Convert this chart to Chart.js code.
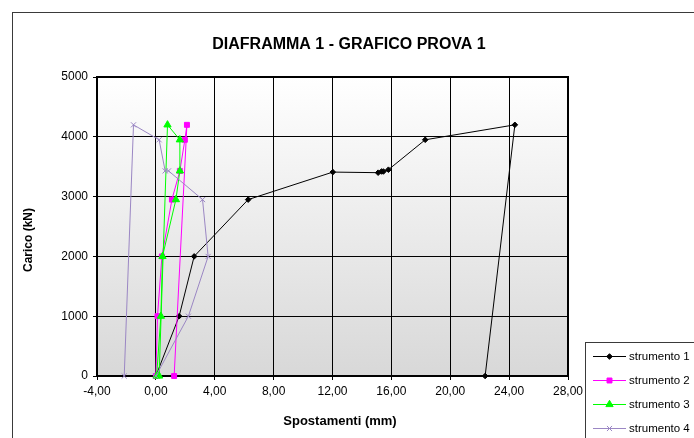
<!DOCTYPE html>
<html>
<head>
<meta charset="utf-8">
<script src="https://cdn.jsdelivr.net/npm/chart.js@4.4.1/dist/chart.umd.min.js"></script>
<style>
  html, body { margin: 0; padding: 0; background: #ffffff; }
  #wrap { width: 694px; height: 438px; position: relative; }
</style>
</head>
<body>
<div id="wrap"><canvas id="c" width="694" height="438"></canvas></div>
<script>
const seriesNames = ['strumento 1', 'strumento 2', 'strumento 3', 'strumento 4'];

const s1Spost  = [0, 1.58, 2.6, 6.27, 12.02, 15.1, 15.33, 15.46, 15.8, 18.3, 24.39, 22.37];
const s1Carico = [0, 1000, 2000, 2950, 3410, 3400, 3420, 3420, 3450, 3950, 4200, 0];

const s2Spost  = [0, 0.11, 0.41, 1.09, 1.63, 1.97, 2.11, 1.24];
const s2Carico = [0, 1000, 2000, 2950, 3430, 3950, 4200, 0];

const s3Spost  = [0.05, 0.34, 0.45, 1.36, 1.63, 1.63, 0.79, 0.22];
const s3Carico = [0, 1000, 2000, 2950, 3430, 3950, 4200, 0];

const s4Spost  = [0, 2.21, 3.55, 3.17, 0.86, 0.63, 0.22, -1.52, -2.15];
const s4Carico = [0, 1000, 2000, 2950, 3430, 3430, 3950, 4200, 0];

const xTickValues = [-4, 0, 4, 8, 12, 16, 20, 24, 28];
const yTickValues = [0, 1000, 2000, 3000, 4000, 5000];

const FONT = '"Liberation Sans", Arial, sans-serif';

function pts(xs, ys) { return xs.map((x, i) => ({ x: x, y: ys[i] })); }

const styles = [
  { color: '#000000', point: 'rectRot',  radius: 2.8 },
  { color: '#ff00ff', point: 'rect',     radius: 3.5 },
  { color: '#00ff00', point: 'triangle', radius: 4.2 },
  { color: '#9b87c4', point: 'crossRot', radius: 3.6 }
];
const allData = [pts(s1Spost, s1Carico), pts(s2Spost, s2Carico), pts(s3Spost, s3Carico), pts(s4Spost, s4Carico)];

const datasets = allData.map((d, i) => ({
  label: seriesNames[i],
  data: d,
  borderColor: styles[i].color,
  backgroundColor: styles[i].color,
  borderWidth: 1,
  pointStyle: styles[i].point,
  pointRadius: styles[i].radius,
  pointBorderWidth: 1,
  pointBorderColor: styles[i].color,
  pointBackgroundColor: styles[i].color,
  showLine: true,
  tension: 0,
  clip: false
})).reverse(); // strumento 1 drawn on top

// plot background, frame, titles and legend
const decor = {
  id: 'decor',
  beforeDraw(chart) {
    const { ctx, chartArea: a } = chart;
    ctx.save();
    ctx.fillStyle = '#ffffff';
    ctx.fillRect(0, 0, chart.width, chart.height);
    ctx.strokeStyle = '#3a3a3a';
    ctx.lineWidth = 1;
    ctx.strokeRect(12.5, 12.5, 800, 600);
    const g = ctx.createLinearGradient(0, a.top, 0, a.bottom);
    g.addColorStop(0, '#ffffff');
    g.addColorStop(1, '#d8d8d8');
    ctx.fillStyle = g;
    ctx.fillRect(a.left, a.top, a.right - a.left, a.bottom - a.top);
    ctx.restore();
  },
  beforeDatasetsDraw(chart) {
    const { ctx, chartArea: a } = chart;
    ctx.save();
    ctx.strokeStyle = '#000000';
    ctx.lineWidth = 2;
    ctx.strokeRect(a.left, a.top, a.right - a.left, a.bottom - a.top);
    ctx.restore();
  },
  afterDraw(chart) {
    const { ctx } = chart;
    ctx.save();
    ctx.fillStyle = '#000000';
    ctx.textAlign = 'center';
    ctx.textBaseline = 'middle';
    ctx.font = 'bold 16px ' + FONT;
    ctx.fillText('DIAFRAMMA 1 - GRAFICO PROVA 1', 349, 45);
    ctx.font = 'bold 13px ' + FONT;
    ctx.fillText('Spostamenti (mm)', 340, 421);
    ctx.save();
    ctx.translate(29, 240);
    ctx.rotate(-Math.PI / 2);
    ctx.font = 'bold 12px ' + FONT;
    ctx.fillText('Carico (kN)', 0, 0);
    ctx.restore();

    // legend box
    ctx.fillStyle = '#ffffff';
    ctx.fillRect(585.5, 342.5, 120, 100);
    ctx.strokeStyle = '#3a3a3a';
    ctx.lineWidth = 1;
    ctx.strokeRect(585.5, 342.5, 120, 100);
    const rows = [356, 380, 404, 428];
    ctx.font = '11.5px ' + FONT;
    ctx.textAlign = 'left';
    seriesNames.forEach((name, i) => {
      const y = rows[i];
      const s = styles[i];
      ctx.strokeStyle = s.color;
      ctx.fillStyle = s.color;
      ctx.lineWidth = 1;
      ctx.beginPath();
      ctx.moveTo(593, y + 0.5);
      ctx.lineTo(626, y + 0.5);
      ctx.stroke();
      Chart.helpers.drawPoint(ctx, {
        pointStyle: s.point, radius: s.radius, rotation: 0, borderWidth: 1
      }, 609.5, y + 0.5);
      ctx.fillStyle = '#000000';
      ctx.fillText(name, 629, y + 1);
    });
    ctx.restore();
  }
};

const tickFont = { family: FONT, size: 12 };

new Chart(document.getElementById('c'), {
  type: 'line',
  data: { datasets: datasets },
  plugins: [decor],
  options: {
    responsive: false,
    animation: false,
    events: [],
    layout: { padding: { left: 20, right: 126, top: 77, bottom: 0 } },
    plugins: { legend: { display: false }, title: { display: false }, tooltip: { enabled: false } },
    scales: {
      x: {
        type: 'linear',
        min: xTickValues[0],
        max: xTickValues[xTickValues.length - 1],
        afterBuildTicks(scale) { scale.ticks = xTickValues.map(v => ({ value: v })); },
        afterFit(scale) { scale.height = 62; },
        grid: { color: '#000000', lineWidth: 1, drawTicks: true, tickLength: 4, tickColor: '#000000' },
        border: { display: false },
        ticks: {
          font: tickFont, color: '#000000', padding: 4, maxRotation: 0, autoSkip: false,
          callback: v => v.toFixed(2).replace('.', ',')
        }
      },
      y: {
        type: 'linear',
        min: yTickValues[0],
        max: yTickValues[yTickValues.length - 1],
        afterBuildTicks(scale) { scale.ticks = yTickValues.map(v => ({ value: v })); },
        afterFit(scale) { scale.width = 77; },
        grid: { color: '#000000', lineWidth: 1, drawTicks: true, tickLength: 4, tickColor: '#000000' },
        border: { display: false },
        ticks: { font: tickFont, color: '#000000', padding: 5, autoSkip: false, callback: v => String(v) }
      }
    }
  }
});
</script>
</body>
</html>
